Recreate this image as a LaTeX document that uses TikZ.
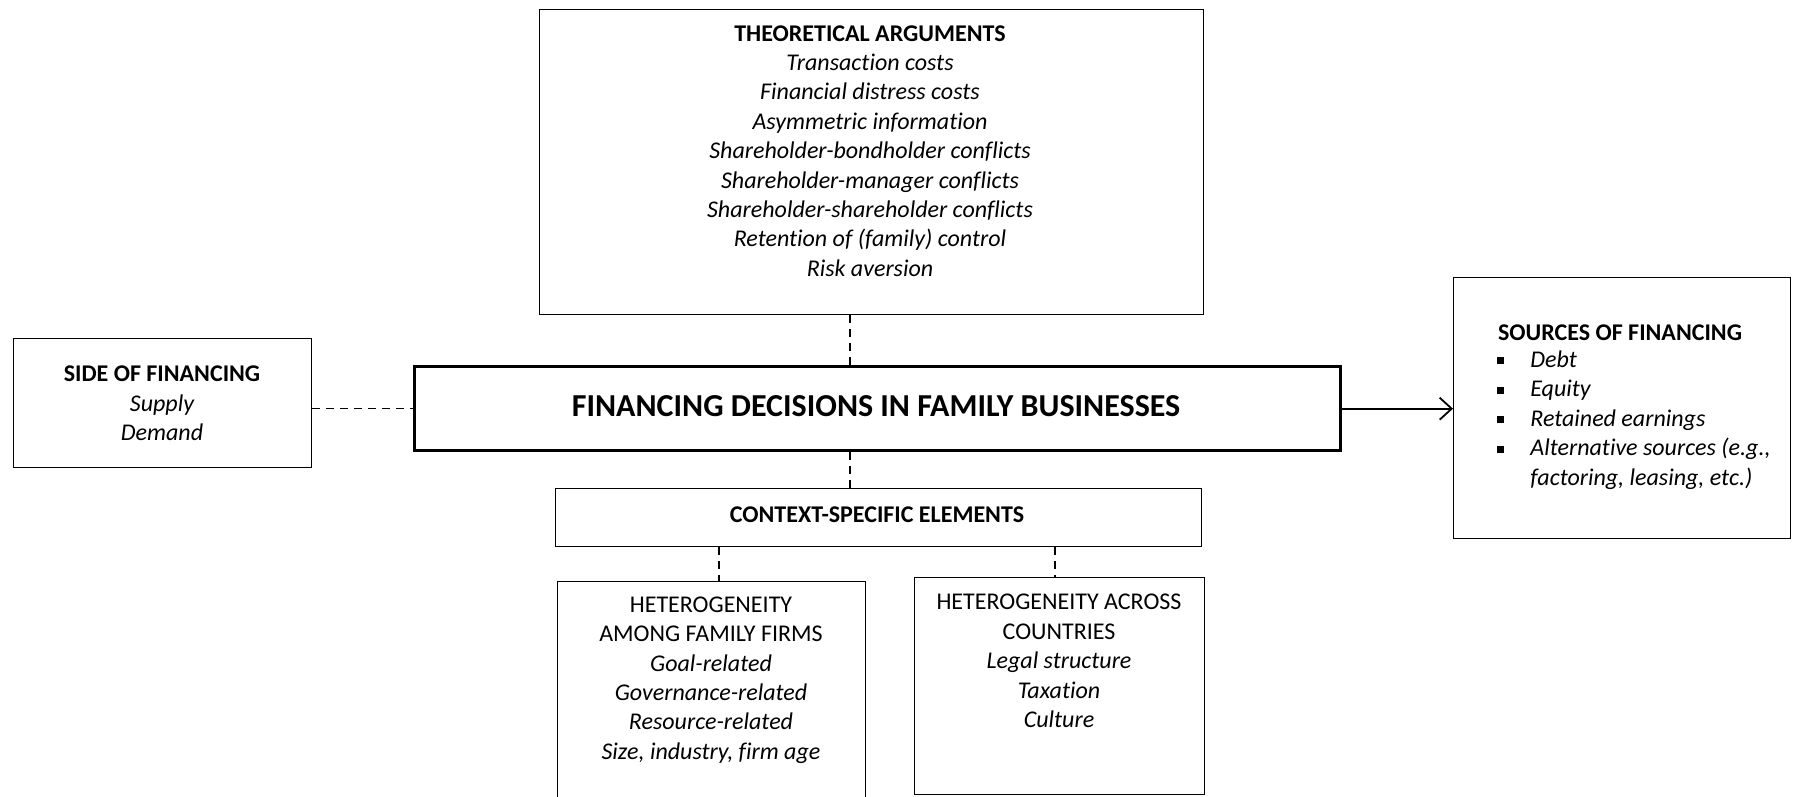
\documentclass[tikz,border=0pt]{standalone}
\usepackage{fontspec}
\setmainfont{Carlito}[Ligatures=NoCommon]
\usetikzlibrary{arrows.meta}
\begin{document}
\begin{tikzpicture}[x=0.5pt,y=-0.5pt,
  box/.style={draw, line width=0.6pt, inner sep=0pt, anchor=north west},
  mainbox/.style={draw, line width=1.7pt, inner sep=0pt, anchor=north west},
  txt/.style={align=center, font=\fontsize{12}{14.7}\selectfont, inner sep=0pt},
  dline/.style={line width=0.6pt, dash pattern=on 4pt off 3pt},
  arr/.style={line width=0.9pt, -{Straight Barb[length=6pt,width=11pt]}}]
\useasboundingbox (0,0) rectangle (1798,797);
% boxes
\node[box, minimum width=332pt, minimum height=152.5pt] (theo) at (539,9) {};
\node[mainbox, minimum width=463pt, minimum height=42pt] (main) at (413,365) {};
\node[box, minimum width=149pt, minimum height=64.5pt] (side) at (13,338) {};
\node[box, minimum width=168.5pt, minimum height=130.5pt] (src) at (1453,277) {};
\node[box, minimum width=323pt, minimum height=29pt] (ctx) at (555,488) {};
\node[box, minimum width=154pt, minimum height=125pt] (fam) at (557,581) {};
\node[box, minimum width=145pt, minimum height=108.5pt] (cty) at (914,577) {};
% texts
\node[txt] (theot) at (870,151) {\textbf{THEORETICAL ARGUMENTS}\\ \itshape Transaction costs\\ \itshape Financial distress costs\\ \itshape Asymmetric information\\ \itshape Shareholder-bondholder conflicts\\ \itshape Shareholder-manager conflicts\\ \itshape Shareholder-shareholder conflicts\\ \itshape Retention of (family) control\\ \itshape Risk aversion};
\node[txt, font=\fontsize{16}{19}\selectfont\bfseries] (maint) at (876,406) {FINANCING DECISIONS IN FAMILY BUSINESSES};
\node[txt] (sidet) at (162,403.6) {\textbf{SIDE OF FINANCING}\\ \itshape Supply\\ \itshape Demand};
\node[txt] (srct) at (1620,333) {\textbf{SOURCES OF FINANCING}};
\node[txt, align=left, anchor=west] (srcl) at (1497,420) {%
\makebox[16.5pt][l]{\rule[1.5pt]{3.5pt}{3.5pt}}\textit{Debt}\\
\makebox[16.5pt][l]{\rule[1.5pt]{3.5pt}{3.5pt}}\textit{Equity}\\
\makebox[16.5pt][l]{\rule[1.5pt]{3.5pt}{3.5pt}}\textit{Retained earnings}\\
\makebox[16.5pt][l]{\rule[1.5pt]{3.5pt}{3.5pt}}\textit{Alternative sources (e.g.,}\\
\hspace*{16.5pt}\textit{factoring, leasing, etc.)}};
\node[txt] (ctxt) at (877,515) {\textbf{CONTEXT-SPECIFIC ELEMENTS}};
\node[txt] (famt) at (711,680) {HETEROGENEITY\\ AMONG FAMILY FIRMS\\ \itshape Goal-related\\ \itshape Governance-related\\ \itshape Resource-related\\ \itshape Size, industry, firm age};
\node[txt] (ctyt) at (1059,661) {HETEROGENEITY ACROSS\\ COUNTRIES\\ \itshape Legal structure\\ \itshape Taxation\\ \itshape Culture};
% connectors
\coordinate (xa) at (850,0);
\coordinate (xb) at (719,0);
\coordinate (xc) at (1055,0);
\draw[dline] (theo.south -| xa) -- (main.north -| xa);
\draw[dline] (main.south -| xa) -- (ctx.north -| xa);
\draw[dline] (ctx.south -| xb) -- (fam.north -| xb);
\draw[dline] (ctx.south -| xc) -- (cty.north -| xc);
\draw[dline] (side.east |- main.west) -- (main.west);
\draw[arr] (main.east) -- (main.east -| src.west);
\end{tikzpicture}
\end{document}
